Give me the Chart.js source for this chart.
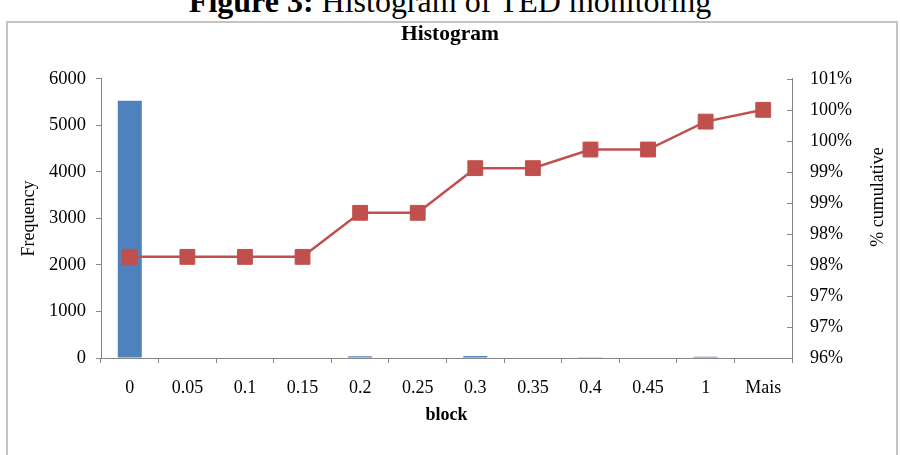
<!DOCTYPE html>
<html>
<head>
<meta charset="utf-8">
<script src="https://cdn.jsdelivr.net/npm/chart.js@4.4.0/dist/chart.umd.min.js"></script>
<style>
  html, body { margin: 0; padding: 0; background: #fff; width: 900px; height: 455px; overflow: hidden; }
  #caption { position: absolute; left: 0; top: -14px; width: 900px; text-align: center;
             font: 32px 'Liberation Serif', 'Times New Roman', serif; line-height: 31px;
             white-space: nowrap; color: #000; }
  #frame { position: absolute; left: 6px; top: 21px; width: 888px; height: 500px;
           border: 2px solid #c4c4c4; }
  #chart { position: absolute; left: 0; top: 0; }
</style>
</head>
<body>
<div id="caption"><b>Figure 3:</b> Histogram of TED monitoring</div>
<div id="frame"></div>
<canvas id="chart" width="900" height="455"></canvas>
<script>
// Histogram bins (block) and counts
const categories = ['0', '0.05', '0.1', '0.15', '0.2', '0.25', '0.3', '0.35', '0.4', '0.45', '1', 'Mais'];
const frequency = [5527, 0, 0, 0, 40, 0, 41, 0, 17, 0, 25, 11];
// Cumulative share of observations, in percent
const cumulativePct = [97.63, 97.63, 97.63, 97.63, 98.34, 98.34, 99.06, 99.06, 99.36, 99.36, 99.81, 100.0];

// Axis ranges
const freqAxis = { min: 0, max: 6000, step: 1000 };
const pctAxis = { min: 96, max: 100.5, step: 0.5 };

const serif = "'Liberation Serif', 'Times New Roman', serif";
const axisGray = '#868686';
const barBlue = '#4F81BD';
const lineRed = '#C0504D';

// Secondary axis: short tick marks pointing into the plot, and a title reading upward
const secondaryAxisDecor = {
  id: 'secondaryAxisDecor',
  afterDraw(chart) {
    const s = chart.scales.y1;
    const ctx = chart.ctx;
    ctx.save();
    ctx.strokeStyle = axisGray;
    ctx.lineWidth = 1;
    s.ticks.forEach(t => {
      const y = Math.round(s.getPixelForValue(t.value)) + 0.5;
      ctx.beginPath();
      ctx.moveTo(s.left - 5, y);
      ctx.lineTo(s.left, y);
      ctx.stroke();
    });
    ctx.translate(878, 197);
    ctx.rotate(-Math.PI / 2);
    ctx.fillStyle = '#000';
    ctx.font = '18px ' + serif;
    ctx.textAlign = 'center';
    ctx.textBaseline = 'middle';
    ctx.fillText('% cumulative', 0, 0);
    ctx.restore();
  }
};

new Chart(document.getElementById('chart'), {
  type: 'bar',
  data: {
    labels: categories,
    datasets: [
      {
        type: 'line',
        label: '% cumulative',
        data: cumulativePct,
        yAxisID: 'y1',
        borderColor: lineRed,
        backgroundColor: lineRed,
        borderWidth: 2.5,
        pointStyle: 'rect',
        pointRadius: 10.5,
        pointBackgroundColor: lineRed,
        pointBorderColor: lineRed,
        pointBorderWidth: 1,
        tension: 0,
        order: 0
      },
      {
        type: 'bar',
        label: 'Frequency',
        data: frequency,
        yAxisID: 'y',
        backgroundColor: barBlue,
        categoryPercentage: 1,
        barPercentage: 0.417,
        order: 1
      }
    ]
  },
  options: {
    responsive: false,
    animation: false,
    devicePixelRatio: 1,
    layout: { padding: 0 },
    plugins: {
      legend: { display: false },
      tooltip: { enabled: false },
      title: {
        display: true,
        text: 'Histogram',
        color: '#000',
        font: { family: serif, size: 21.5, weight: 'bold' },
        padding: { top: 22, bottom: 31 }
      }
    },
    scales: {
      x: {
        grid: { drawOnChartArea: false, drawTicks: true, tickLength: 5, color: axisGray, offset: true },
        border: { display: true, color: axisGray, width: 1 },
        ticks: { color: '#000', font: { family: serif, size: 18 }, padding: 14, maxRotation: 0, autoSkip: false },
        title: { display: true, text: 'block', color: '#000', font: { family: serif, size: 18, weight: 'bold' }, padding: { top: 0, bottom: 29 } },
        afterFit: s => { s.height = 97; }
      },
      y: {
        position: 'left',
        min: freqAxis.min,
        max: freqAxis.max,
        ticks: { stepSize: freqAxis.step, color: '#000', font: { family: serif, size: 18.5 }, padding: 10,
                 callback: v => String(v) },
        grid: { drawOnChartArea: false, tickLength: 5, color: axisGray },
        border: { color: axisGray },
        title: { display: true, text: 'Frequency', color: '#000', font: { family: serif, size: 18 }, padding: { top: 18, bottom: 0 } },
        afterFit: s => { s.width = 101; }
      },
      y1: {
        position: 'right',
        min: pctAxis.min,
        max: pctAxis.max,
        ticks: { stepSize: pctAxis.step, color: '#000', font: { family: serif, size: 18 }, padding: 18,
                 callback: v => Math.round(v) + '%' },
        grid: { drawOnChartArea: false, drawTicks: false },
        border: { color: axisGray },
        afterFit: s => { s.width = 108; }
      }
    }
  },
  plugins: [secondaryAxisDecor]
});
</script>
</body>
</html>
